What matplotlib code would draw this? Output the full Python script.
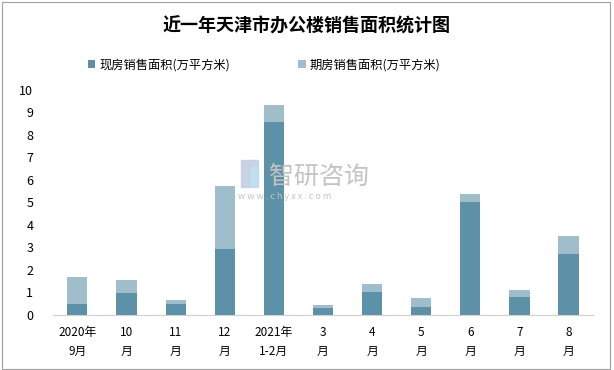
import matplotlib.pyplot as plt
import numpy as np

plt.rcParams['font.family'] = ['Noto Sans CJK SC', 'DejaVu Sans']

months = ['2020年\n9月', '10\n月', '11\n月', '12\n月', '2021年\n1-2月', '3\n月',
          '4\n月', '5\n月', '6\n月', '7\n月', '8\n月']
xianfang = [0.49, 0.95, 0.49, 2.93, 8.58, 0.31, 1.02, 0.36, 5.02, 0.80, 2.71]
qifang = [1.20, 0.61, 0.18, 2.80, 0.75, 0.13, 0.36, 0.40, 0.35, 0.31, 0.80]

c_xian = '#5d91a7'
c_qi = '#9fbdca'

fig = plt.figure(figsize=(6.14, 3.70), dpi=100)
ax = fig.add_axes([0.086, 0.149, 0.880, 0.608])

x = np.arange(len(months))
ax.bar(x, xianfang, width=0.41, color=c_xian, label='现房销售面积(万平方米)')
ax.bar(x, qifang, width=0.41, bottom=xianfang, color=c_qi, label='期房销售面积(万平方米)')

ax.set_xlim(-0.5, len(months) - 0.5)
ax.set_ylim(0, 10)
ax.set_yticks(range(0, 11))
ax.set_xticks(x)
ax.set_xticklabels(months, fontsize=8.5, linespacing=1.6)
ax.tick_params(axis='both', length=0)
ax.tick_params(axis='y', labelsize=9, pad=14)
ax.tick_params(axis='x', pad=8)
for s in ['top', 'right', 'left']:
    ax.spines[s].set_visible(False)
ax.spines['bottom'].set_color('#d0d0d0')

fig.text(0.5, 0.93, '近一年天津市办公楼销售面积统计图', ha='center', va='center',
         fontsize=13, fontweight='bold')
fig.legend(loc='center', bbox_to_anchor=(0.43, 0.825), ncol=2, frameon=False,
           fontsize=8.8, handlelength=0.6, handleheight=0.6, columnspacing=5.6,
           handletextpad=0.3)

# watermark: little logo blocks + name + url
logo = [(0.392, 0.495, 0.013, 0.055, '#c5cfe3'), (0.407, 0.495, 0.013, 0.055, '#b9dcef'),
        (0.392, 0.555, 0.028, 0.012, '#c5cfe3')]
for lx, ly, lw, lh, lc in logo:
    fig.patches.append(plt.Rectangle((lx, ly), lw, lh, transform=fig.transFigure,
                                     color=lc, alpha=0.9))
fig.text(0.438, 0.522, '智研咨询', fontsize=18, color='#c4c4c4', ha='left', va='center')
fig.text(0.388, 0.468, 'w w w . c h y x x . c o m', fontsize=6.5, color='#c4c4c4',
         ha='left', va='center')

# outer border
fig.patches.append(plt.Rectangle((0.004, 0.004), 0.99, 0.99, transform=fig.transFigure,
                                 fill=False, edgecolor='#a0a0a0', linewidth=0.8))

fig.savefig('out.png', dpi=100)
